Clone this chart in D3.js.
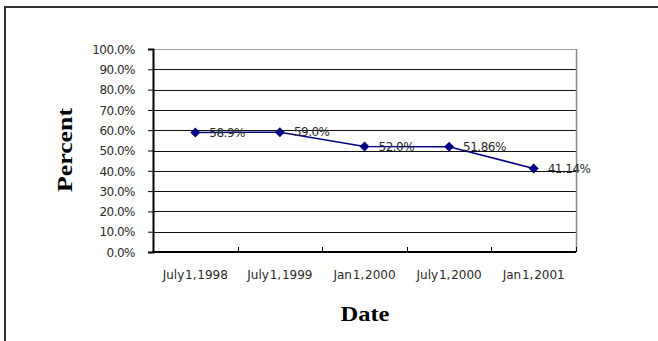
<!DOCTYPE html>
<html>
<head>
<meta charset="utf-8">
<script src="https://cdn.jsdelivr.net/npm/d3@7/dist/d3.min.js"></script>
<style>
  html, body { margin: 0; padding: 0; background: #fff; }
  svg { display: block; }
  .tick-label { font-family: "DejaVu Sans", Verdana, sans-serif; font-size: 12px; fill: #2a2a2a; letter-spacing: -0.5px; }
  .cat-label { letter-spacing: 0px; }
  .axis-title { font-family: "Liberation Serif", "Times New Roman", serif; font-size: 21px; font-weight: bold; fill: #000; }
</style>
</head>
<body>
<script>
// Share of responses by survey date
const dates = ["July 1, 1998", "July 1, 1999", "Jan 1, 2000", "July 1, 2000", "Jan 1, 2001"];
const percents = [58.9, 59.0, 52.0, 51.86, 41.14];
const valueLabels = ["58.9%", "59.0%", "52.0%", "51.86%", "41.14%"];
const yTicks = [0, 10, 20, 30, 40, 50, 60, 70, 80, 90, 100];

const W = 658, H = 341;
const plot = { left: 153, right: 576, top: 49, bottom: 252 };

const svg = d3.select("body").append("svg").attr("width", W).attr("height", H);

// outer chart frame (top and left edges)
svg.append("path")
  .attr("d", `M5,${H} L5,7 L${W},7`)
  .attr("fill", "none").attr("stroke", "#333").attr("stroke-width", 2);

const x = d3.scaleBand().domain(dates).range([plot.left, plot.right]);
const y = d3.scaleLinear().domain([0, 100]).range([plot.bottom, plot.top]);

// horizontal gridlines
svg.append("g").selectAll("line").data(yTicks.filter(d => d > 0)).join("line")
  .attr("x1", plot.left).attr("x2", plot.right)
  .attr("y1", d => Math.round(y(d)) + 0.5).attr("y2", d => Math.round(y(d)) + 0.5)
  .attr("stroke", d => d === 100 ? "#999" : "#111").attr("stroke-width", 1);

// right border of plot area
svg.append("line")
  .attr("x1", plot.right + 0.5).attr("x2", plot.right + 0.5)
  .attr("y1", plot.top).attr("y2", plot.bottom)
  .attr("stroke", "#888").attr("stroke-width", 1.5);

// y axis
const yAxis = d3.axisLeft(y).tickValues(yTicks).tickSize(5).tickFormat(d => d.toFixed(1) + "%");
const gy = svg.append("g").attr("transform", `translate(${plot.left},0)`).call(yAxis);
gy.select(".domain").attr("stroke", "#000").attr("stroke-width", 2);
gy.selectAll(".tick line").attr("stroke", "#000");
gy.selectAll(".tick text").attr("class", "tick-label").attr("x", -18).attr("dy", "0.35em");

// x axis: ticks between categories, pointing into the plot
const boundaries = dates.map(d => x(d)).concat([plot.right]).slice(1);
const gx = svg.append("g");
gx.append("line")
  .attr("x1", plot.left - 1).attr("x2", plot.right)
  .attr("y1", plot.bottom).attr("y2", plot.bottom)
  .attr("stroke", "#000").attr("stroke-width", 2);
gx.selectAll("line.tk").data(boundaries).join("line").attr("class", "tk")
  .attr("x1", d => Math.round(d) + 0.5).attr("x2", d => Math.round(d) + 0.5)
  .attr("y1", plot.bottom).attr("y2", plot.bottom - 5)
  .attr("stroke", "#000");
gx.selectAll("text").data(dates).join("text")
  .attr("class", "tick-label cat-label")
  .attr("x", d => x(d) + x.bandwidth() / 2)
  .attr("y", 279)
  .attr("text-anchor", "middle")
  .attr("word-spacing", "-3px")
  .text(d => d);

// series line
const pts = dates.map((d, i) => ({ d, v: percents[i], label: valueLabels[i] }));
const cx = p => x(p.d) + x.bandwidth() / 2;
svg.append("path")
  .datum(pts)
  .attr("d", d3.line().x(cx).y(p => y(p.v)))
  .attr("fill", "none").attr("stroke", "#000080").attr("stroke-width", 1.5);

// diamond markers
svg.append("g").selectAll("path").data(pts).join("path")
  .attr("transform", p => `translate(${cx(p)},${y(p.v)})`)
  .attr("d", "M0,-5L5,0L0,5L-5,0Z")
  .attr("fill", "#000080");

// value labels
svg.append("g").selectAll("text").data(pts).join("text")
  .attr("class", "tick-label")
  .attr("x", p => cx(p) + 14)
  .attr("y", p => y(p.v))
  .attr("dy", "0.35em")
  .text(p => p.label);

// axis titles
svg.append("text").attr("class", "axis-title")
  .attr("x", 365).attr("y", 321).attr("text-anchor", "middle")
  .attr("textLength", 49).attr("lengthAdjust", "spacingAndGlyphs")
  .text("Date");
svg.append("text").attr("class", "axis-title")
  .attr("transform", "translate(72,150) rotate(-90)")
  .attr("text-anchor", "middle")
  .attr("textLength", 84).attr("lengthAdjust", "spacingAndGlyphs")
  .text("Percent");
</script>
</body>
</html>
